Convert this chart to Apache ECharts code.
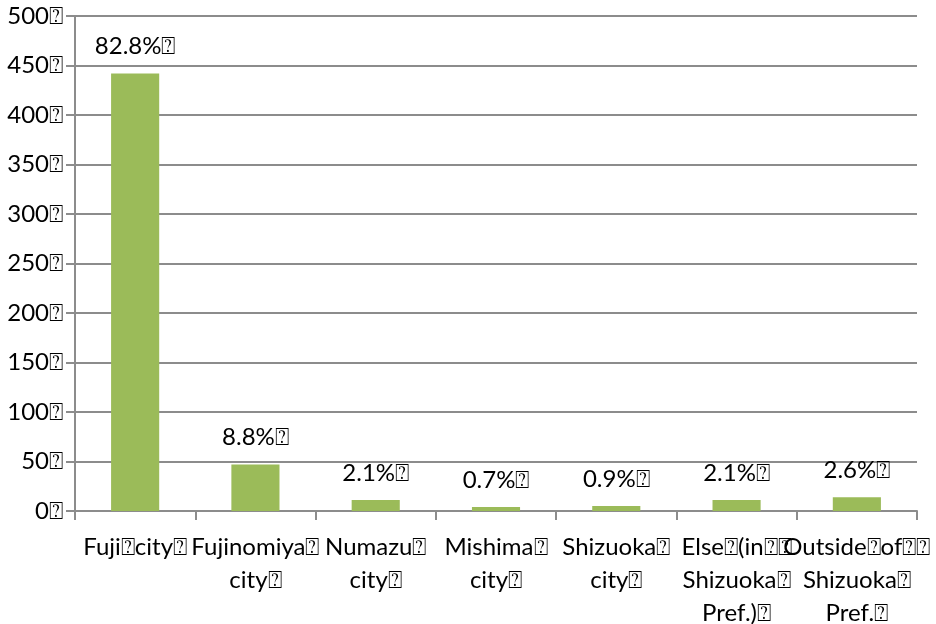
<!DOCTYPE html>
<html>
<head>
<meta charset="utf-8">
<title>chart</title>
<script src="https://cdn.jsdelivr.net/npm/echarts@6/dist/echarts.min.js"></script>
<style>
    html, body {margin: 0; padding: 0; background: #fff;}
    #main {width: 936px; height: 624px;}
</style>
</head>
<body>
<div id="main"></div>
<script>
var categories = ['Fuji\u2370city\u2370', 'Fujinomiya\u2370\ncity\u2370', 'Numazu\u2370\ncity\u2370', 'Mishima\u2370\ncity\u2370',
    'Shizuoka\u2370\ncity\u2370', 'Else\u2370(in\u2370\u2370\nShizuoka\u2370\nPref.)\u2370', 'Outside\u2370of\u2370\u2370\nShizuoka\u2370\nPref.\u2370'];
var counts = [442, 47, 11, 4, 5, 11, 14];
var shares = ['82.8%', '8.8%', '2.1%', '0.7%', '0.9%', '2.1%', '2.6%'];
var yTicks = [0, 50, 100, 150, 200, 250, 300, 350, 400, 450, 500];

var gridColor = '#8c8c8c';
var fontName = 'Lato';

var myChart = echarts.init(document.getElementById('main'));
var option = {
    animation : false,
    grid : {left : 75, right : 19, top : 16, bottom : 113, outerBoundsMode : 'none', containLabel : false},
    xAxis : {
        type : 'category',
        data : categories,
        axisLine : {lineStyle : {color : gridColor, width : 2}},
        axisTick : {show : true, length : 9, interval : 0, lineStyle : {color : gridColor, width : 2}},
        axisLabel : {
            interval : 0, margin : 20, color : '#000',
            fontFamily : fontName, fontSize : 24, lineHeight : 33
        }
    },
    yAxis : {
        type : 'value',
        min : yTicks[0],
        max : yTicks[yTicks.length - 1],
        interval : 50,
        axisLine : {show : true, lineStyle : {color : gridColor, width : 2}},
        axisTick : {show : true, length : 9, lineStyle : {color : gridColor, width : 2}},
        splitLine : {lineStyle : {color : gridColor, width : 2}},
        axisLabel : {
            margin : 12, color : '#000', fontFamily : fontName, fontSize : 24,
            formatter : function(v) { return v + '\u2370'; }
        }
    },
    series : [{
        type : 'bar',
        data : counts,
        barWidth : '40%',
        itemStyle : {color : '#9bbb59'},
        label : {
            show : true, position : 'top', distance : 15,
            color : '#000', fontFamily : fontName, fontSize : 24,
            formatter : function(p) { return shares[p.dataIndex] + '\u2370'; }
        }
    }]
};
myChart.setOption(option);
</script>
</body>
</html>
